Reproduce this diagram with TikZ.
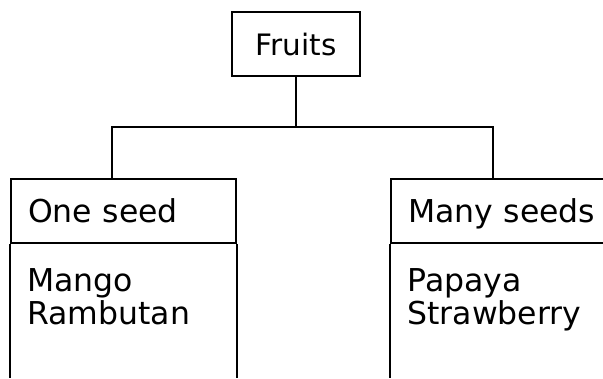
\documentclass[tikz,border=0pt]{standalone}
\usepackage{fontspec}
\setmainfont{DejaVu Sans}
\usetikzlibrary{positioning}

\begin{document}
\begin{tikzpicture}[
    x=1pt, y=-1pt,
    font=\fontsize{31.5}{33}\selectfont,
    title/.style={rectangle, draw, line width=1.6pt, minimum width=128pt, minimum height=64pt, inner sep=0pt, font=\fontsize{29.5}{33}\selectfont},
    head/.style={rectangle, draw, line width=1.6pt, minimum width=225pt, minimum height=64pt, text width=191pt, inner xsep=17pt, align=left, text height=23pt, text depth=0pt},
    items/.style={anchor=north west, align=left, inner sep=0pt},
    link/.style={line width=1.6pt}
]
\useasboundingbox (0,0) rectangle (603,378);

\node[title] (fruits) at (296,44) {Fruits};
\node[head] (one) at (123.5,211) {One seed};
\node[head] (many) at (503.5,211) {Many seeds};
\node[items] (onelist) at ([xshift=17pt,yshift=-25pt]one.south west) {Mango\\Rambutan};
\node[items] (manylist) at ([xshift=17pt,yshift=-25pt]many.south west) {Papaya\\Strawberry};

\coordinate (jl) at (112,127);
\coordinate (jr) at (493,127);
\coordinate (floor) at (0,378);

\draw[link] (fruits.south) -- (fruits.south |- jl);
\draw[link] (jl |- one.north) -- (jl) -- (jr) -- (jr |- many.north);
\draw[link] (one.south west) -- (one.south west |- floor);
\draw[link] (one.south east) -- (one.south east |- floor);
\draw[link] (many.south west) -- (many.south west |- floor);
\draw[link] (many.south east) -- (many.south east |- floor);
\end{tikzpicture}
\end{document}
